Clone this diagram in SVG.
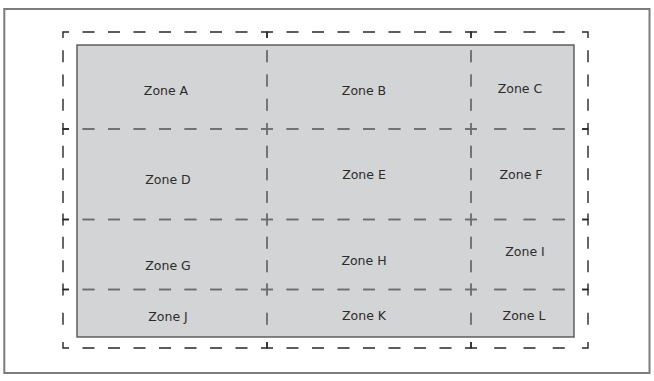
<svg xmlns="http://www.w3.org/2000/svg" width="654" height="381" viewBox="0 0 654 381">
<defs>
<pattern id="dashPaint" patternUnits="userSpaceOnUse" x="0" y="0" width="654" height="381">
<rect x="0" y="0" width="654" height="381" fill="#262626"/>
<rect x="77" y="45" width="497" height="292" fill="#6c6c6c"/>
</pattern>
</defs>
<style>
.frame{fill:#ffffff;stroke:#7c7c7c;stroke-width:2}
.area{fill:#d3d4d6;stroke:#4a4a4a;stroke-width:1.3}
.zone rect{fill:none;stroke:url(#dashPaint);stroke-width:1.4;stroke-linecap:butt}
.zone text{font-family:"DejaVu Sans",Verdana,sans-serif;font-size:12.5px;fill:#2b2b2b;text-anchor:middle}
.a{stroke-dasharray:6 13.5 12 13.5 12 13.5 12 13.5 12 13.5 12 13.5 12 13.5 12 13.5 12 12.25 12 12.25 12 12.25 12 12.25 12 13.5 12 13.5 12 13.5 12 13.5 12 13.5 12 13.5 12 13.5 12 13.5 12 12.25 12 12.25 12 12.25 12 12.25 12}
.b{stroke-dasharray:6 17.25 12 17.25 12 17.25 12 17.25 12 12.25 12 12.25 12 12.25 12 12.25 12 17.25 12 17.25 12 17.25 12 17.25 12 12.25 12 12.25 12 12.25 12 12.25 12}
.c{stroke-dasharray:6 13.5 12 13.5 12 13.5 12 13.5 12 13.5 12 13.5 12 13.5 12 13.5 12 10.625 12 10.625 12 10.625 12 10.625 12 13.5 12 13.5 12 13.5 12 13.5 12 13.5 12 13.5 12 13.5 12 13.5 12 10.625 12 10.625 12 10.625 12 10.625 12}
.d{stroke-dasharray:6 17.25 12 17.25 12 17.25 12 17.25 12 10.625 12 10.625 12 10.625 12 10.625 12 17.25 12 17.25 12 17.25 12 17.25 12 10.625 12 10.625 12 10.625 12 10.625 12}
.e{stroke-dasharray:6 13.5 12 13.5 12 13.5 12 13.5 12 13.5 12 13.5 12 13.5 12 13.5 12 11.3333 12 11.3333 12 11.3333 12 13.5 12 13.5 12 13.5 12 13.5 12 13.5 12 13.5 12 13.5 12 13.5 12 11.3333 12 11.3333 12 11.3333 12}
.f{stroke-dasharray:6 17.25 12 17.25 12 17.25 12 17.25 12 11.3333 12 11.3333 12 11.3333 12 17.25 12 17.25 12 17.25 12 17.25 12 11.3333 12 11.3333 12 11.3333 12}
.g{stroke-dasharray:6 13.5 12 13.5 12 13.5 12 13.5 12 13.5 12 13.5 12 13.5 12 13.5 12 17.25 12 17.25 12 13.5 12 13.5 12 13.5 12 13.5 12 13.5 12 13.5 12 13.5 12 13.5 12 17.25 12 17.25 12}
.h{stroke-dasharray:6 17.25 12 17.25 12 17.25 12 17.25 12 17.25 12 17.25 12 17.25 12 17.25 12 17.25 12 17.25 12 17.25 12 17.25 12}
</style>
<rect class="frame" x="4.3" y="9" width="645.2" height="364"/>
<rect id="area" class="area" x="77" y="45" width="497" height="292"/>
<g id="connectors"></g>
<g id="zone-a" class="zone"><rect class="a" x="63" y="32" width="204" height="97"/><text x="166" y="94.5">Zone A</text></g>
<g id="zone-b" class="zone"><rect class="a" x="267" y="32" width="204" height="97"/><text x="364" y="94.5">Zone B</text></g>
<g id="zone-c" class="zone"><rect class="b" x="471" y="32" width="117" height="97"/><text x="520" y="92.5">Zone C</text></g>
<g id="zone-d" class="zone"><rect class="c" x="63" y="129" width="204" height="90.5"/><text x="168" y="184">Zone D</text></g>
<g id="zone-e" class="zone"><rect class="c" x="267" y="129" width="204" height="90.5"/><text x="364" y="178.5">Zone E</text></g>
<g id="zone-f" class="zone"><rect class="d" x="471" y="129" width="117" height="90.5"/><text x="521" y="178.5">Zone F</text></g>
<g id="zone-g" class="zone"><rect class="e" x="63" y="219.5" width="204" height="70"/><text x="168" y="270">Zone G</text></g>
<g id="zone-h" class="zone"><rect class="e" x="267" y="219.5" width="204" height="70"/><text x="364" y="264.5">Zone H</text></g>
<g id="zone-i" class="zone"><rect class="f" x="471" y="219.5" width="117" height="70"/><text x="525" y="256">Zone I</text></g>
<g id="zone-j" class="zone"><rect class="g" x="63" y="289.5" width="204" height="58.5"/><text x="168" y="321">Zone J</text></g>
<g id="zone-k" class="zone"><rect class="g" x="267" y="289.5" width="204" height="58.5"/><text x="364" y="319.5">Zone K</text></g>
<g id="zone-l" class="zone"><rect class="h" x="471" y="289.5" width="117" height="58.5"/><text x="524" y="319.5">Zone L</text></g>
</svg>
